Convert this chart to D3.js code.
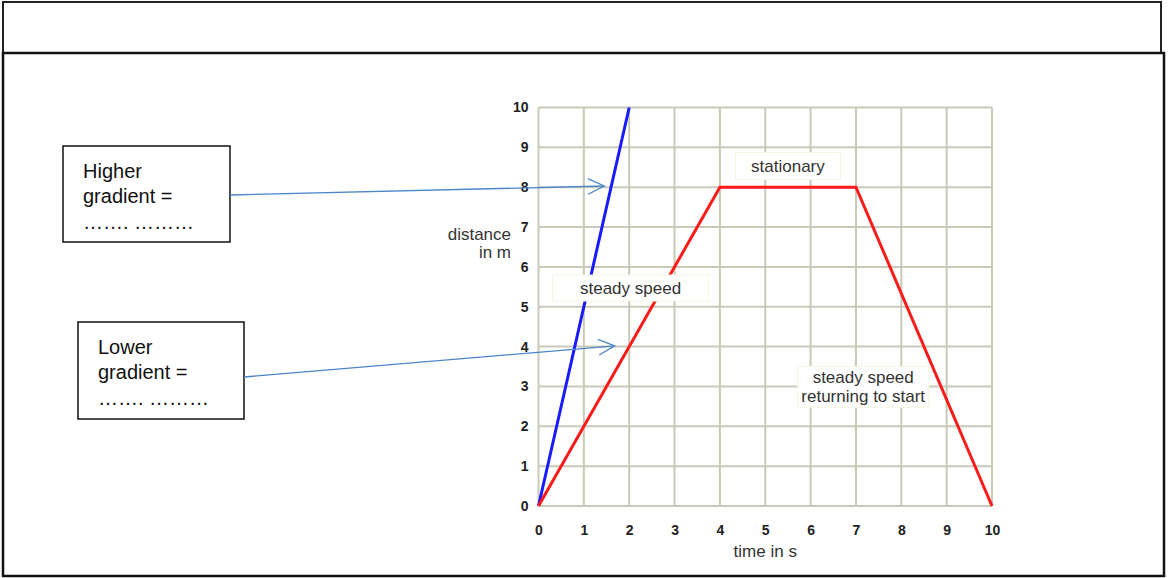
<!DOCTYPE html>
<html><head><meta charset="utf-8">
<script src="https://cdn.jsdelivr.net/npm/d3@7"></script>
<style>body{margin:0;background:#fff}svg{display:block}</style>
</head><body>
<script>
const xTicks = [0,1,2,3,4,5,6,7,8,9,10];
const yTicks = [0,1,2,3,4,5,6,7,8,9,10];
const fastTime = [0, 2];
const fastDist = [0, 10];
const slowTime = [0, 4, 7, 10];
const slowDist = [0, 8, 8, 0];
const xLabel = "time in s";
const yLabel = ["distance", "in m"];
const notes = [
  {lines:["steady speed"], t:2.03, d:5.47},
  {lines:["stationary"], t:5.5, d:8.53},
  {lines:["steady speed","returning to start"], t:7.16, d:2.99}
];
const callouts = [
  {lines:["Higher","gradient =","……. ………"], t:1.45, d:8.03},
  {lines:["Lower","gradient =","……. ………"], t:1.68, d:4.02}
];

const W=1169,H=578;
const svg=d3.select("body").append("svg").attr("width",W).attr("height",H);
const x=d3.scaleLinear().domain([0,10]).range([538.5,992]);
const y=d3.scaleLinear().domain([0,10]).range([506,107.5]);
const font="Liberation Sans, Arial, sans-serif";

// outer boxes
svg.append("rect").attr("x",3).attr("y",2).attr("width",1158).attr("height",51).attr("fill","none").attr("stroke","#222").attr("stroke-width",2);
svg.append("rect").attr("x",3).attr("y",53).attr("width",1161).attr("height",523).attr("fill","none").attr("stroke","#111").attr("stroke-width",2.5);

const g=svg.append("g");
const gridCol="#c9c9b8";
g.selectAll(".vg").data(xTicks).join("line").attr("x1",d=>x(d)).attr("x2",d=>x(d)).attr("y1",y(0)).attr("y2",y(10)).attr("stroke",gridCol).attr("stroke-width",2);
g.selectAll(".hg").data(yTicks).join("line").attr("y1",d=>y(d)).attr("y2",d=>y(d)).attr("x1",x(0)).attr("x2",x(10)).attr("stroke",gridCol).attr("stroke-width",2);

const xa=g.append("g").attr("transform",`translate(0,${y(0)+16})`).call(d3.axisBottom(x).tickValues(xTicks).tickSize(0).tickFormat(d3.format("d")));
const ya=g.append("g").attr("transform",`translate(${x(0)-7},0)`).call(d3.axisLeft(y).tickValues(yTicks).tickSize(0).tickFormat(d3.format("d")));
[xa,ya].forEach(a=>{a.select(".domain").remove();a.selectAll("text").attr("font-family",font).attr("font-weight","bold").attr("font-size",14).attr("fill","#222");});

const line=d3.line().x(d=>x(d[0])).y(d=>y(d[1]));
g.append("path").datum(fastTime.map((t,i)=>[t,fastDist[i]])).attr("d",line).attr("fill","none").attr("stroke","#1a1aff").attr("stroke-width",3);
g.append("path").datum(slowTime.map((t,i)=>[t,slowDist[i]])).attr("d",line).attr("fill","none").attr("stroke","#ff1a1a").attr("stroke-width",3);

// axis titles
g.append("text").attr("x",(x(0)+x(10))/2).attr("y",557).attr("text-anchor","middle").attr("font-family",font).attr("font-size",17).attr("fill","#333").text(xLabel);
g.append("text").attr("x",511).attr("y",240).attr("text-anchor","end").attr("font-family",font).attr("font-size",17).attr("fill","#333").text(yLabel[0]);
g.append("text").attr("x",511).attr("y",258).attr("text-anchor","end").attr("font-family",font).attr("font-size",17).attr("fill","#333").text(yLabel[1]);

// notes with white boxes
const noteBoxes=[{w:156,h:26},{w:105,h:27},{w:131,h:41}];
notes.forEach((n,i)=>{
  const cx=x(n.t), cy=y(n.d);
  const b=noteBoxes[i];
  g.append("rect").attr("x",cx-b.w/2).attr("y",cy-b.h/2).attr("width",b.w).attr("height",b.h).attr("fill","#fff").attr("stroke","#f6f6e4").attr("stroke-width",1);
  const lh=19, n0=n.lines.length;
  n.lines.forEach((l,j)=>{
    g.append("text").attr("x",cx).attr("y",cy+(j-(n0-1)/2)*lh+6).attr("text-anchor","middle").attr("font-family",font).attr("font-size",17).attr("fill","#333").text(l);
  });
});

// callout boxes and arrows
const boxes=[{x:63,y:146,w:167,h:96,ay:195},{x:78,y:322,w:166,h:97,ay:377}];
const baseOff=[32,57,83];
callouts.forEach((c,i)=>{
  const b=boxes[i];
  svg.append("rect").attr("x",b.x).attr("y",b.y).attr("width",b.w).attr("height",b.h).attr("fill","#fff").attr("stroke","#111").attr("stroke-width",1.5);
  c.lines.forEach((l,j)=>{
    svg.append("text").attr("x",b.x+20).attr("y",b.y+baseOff[j]).attr("font-family",font).attr("font-size",20).attr("fill","#111").text(l);
  });
  const x1=b.x+b.w, y1=b.ay, x2=x(c.t), y2=y(c.d);
  svg.append("line").attr("x1",x1).attr("y1",y1).attr("x2",x2).attr("y2",y2).attr("stroke","#4a86c8").attr("stroke-width",1.3);
  const ang=Math.atan2(y2-y1,x2-x1), L=18, a=0.45;
  const p=[[x2-L*Math.cos(ang-a),y2-L*Math.sin(ang-a)],[x2,y2],[x2-L*Math.cos(ang+a),y2-L*Math.sin(ang+a)]];
  svg.append("path").attr("d",d3.line()(p)).attr("fill","none").attr("stroke","#4a86c8").attr("stroke-width",1.3);
});
</script>
</body></html>
